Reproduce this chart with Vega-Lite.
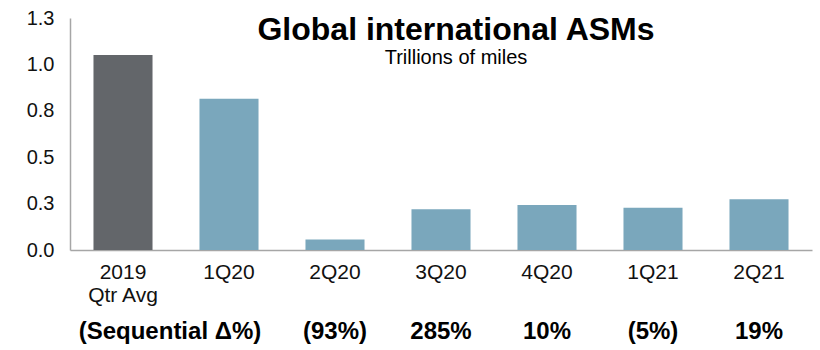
{
  "$schema": "https://vega.github.io/schema/vega-lite/v6.json",
  "autosize": {"type": "none"},
  "width": 742,
  "height": 232,
  "padding": {"left": 70, "top": 18, "right": 8, "bottom": 100},
  "background": "white",
  "config": {
    "view": {"stroke": null},
    "font": "Liberation Sans"
  },
  "title": {
    "text": "Global international ASMs",
    "subtitle": "Trillions of miles",
    "anchor": "middle",
    "frame": "group",
    "offset": -61,
    "dx": 15,
    "font": "Liberation Sans",
    "fontSize": 32,
    "fontWeight": "bold",
    "color": "#000000",
    "subtitleFont": "Liberation Sans",
    "subtitleFontSize": 20,
    "subtitleColor": "#000000",
    "subtitlePadding": 1
  },
  "data": {
    "values": [
      {"cat": "2019 Qtr Avg", "v": 1.05, "seq": "", "kind": "base"},
      {"cat": "1Q20", "v": 0.815, "seq": "", "kind": "q"},
      {"cat": "2Q20", "v": 0.056, "seq": "(93%)", "kind": "q"},
      {"cat": "3Q20", "v": 0.219, "seq": "285%", "kind": "q"},
      {"cat": "4Q20", "v": 0.242, "seq": "10%", "kind": "q"},
      {"cat": "1Q21", "v": 0.228, "seq": "(5%)", "kind": "q"},
      {"cat": "2Q21", "v": 0.273, "seq": "19%", "kind": "q"}
    ]
  },
  "encoding": {
    "x": {
      "field": "cat",
      "type": "nominal",
      "sort": null,
      "scale": {"paddingInner": 0.443, "paddingOuter": 0.2215},
      "axis": {
        "title": null,
        "labelAngle": 0,
        "labelFontSize": 21,
        "labelColor": "#111111",
        "labelPadding": 11,
        "labelLineHeight": 23,
        "ticks": false,
        "domainColor": "#a6a6a6",
        "domainWidth": 1.5,
        "labelExpr": "datum.value == '2019 Qtr Avg' ? ['2019', 'Qtr Avg'] : datum.value"
      }
    }
  },
  "layer": [
    {
      "mark": {"type": "bar"},
      "encoding": {
        "y": {
          "field": "v",
          "type": "quantitative",
          "scale": {"domain": [0, 1.25], "nice": false},
          "axis": {
            "title": null,
            "values": [0, 0.25, 0.5, 0.75, 1.0, 1.25],
            "format": ".1f",
            "grid": false,
            "ticks": false,
            "labelFontSize": 20,
            "labelColor": "#111111",
            "labelPadding": 16,
            "domainColor": "#a6a6a6",
            "domainWidth": 1.5
          }
        },
        "color": {
          "field": "kind",
          "type": "nominal",
          "scale": {"domain": ["base", "q"], "range": ["#63666a", "#7aa7bc"]},
          "legend": null
        }
      }
    },
    {
      "mark": {"type": "text", "fontSize": 24, "fontWeight": "bold", "color": "#000000", "baseline": "middle"},
      "encoding": {
        "y": {"datum": -0.44, "type": "quantitative"},
        "text": {"field": "seq"}
      }
    },
    {
      "data": {"values": [{"cat": "2019 Qtr Avg", "label": "(Sequential Δ%)"}]},
      "mark": {"type": "text", "fontSize": 24, "fontWeight": "bold", "color": "#000000", "baseline": "middle", "dx": 47},
      "encoding": {
        "y": {"datum": -0.44, "type": "quantitative"},
        "text": {"field": "label"}
      }
    }
  ]
}
